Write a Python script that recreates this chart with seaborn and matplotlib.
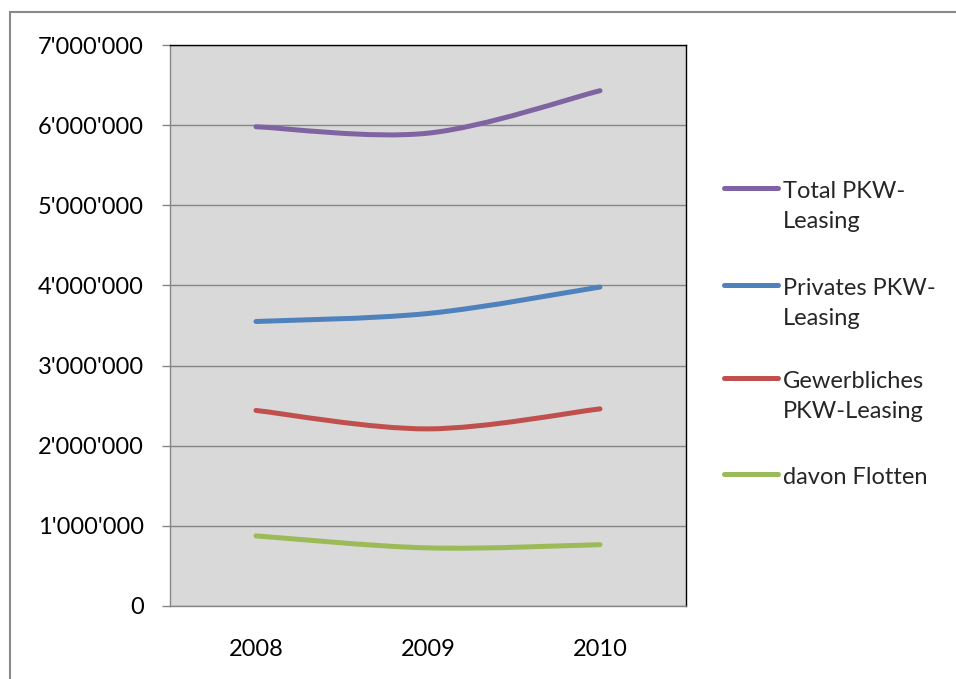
import numpy as np
import matplotlib.pyplot as plt
import seaborn as sns
from matplotlib.path import Path
from matplotlib.patches import PathPatch, Rectangle
from matplotlib.lines import Line2D
from matplotlib.ticker import FuncFormatter

# data
years = ["2008", "2009", "2010"]
total = [5980000, 5900000, 6430000]
privates = [3550000, 3650000, 3980000]
gewerblich = [2440000, 2210000, 2460000]
flotten = [875000, 725000, 765000]

labels = ["Total PKW-\nLeasing", "Privates PKW-\nLeasing", "Gewerbliches\nPKW-Leasing", "davon Flotten"]
colors = ["#8064A2", "#4F81BD", "#C0504D", "#9BBB59"]
series = [total, privates, gewerblich, flotten]

sns.set_theme(style="white")
plt.rcParams['font.family'] = ['Lato', 'DejaVu Sans']

W, H = 956, 679
fig = plt.figure(figsize=(W / 100, H / 100), dpi=100)
ax = fig.add_axes([170 / W, 1 - 606 / H, 516 / W, 561 / H])
ax.set_facecolor("#D9D9D9")


def smooth_path(xs, ys):
    # excel-like smoothed line: cubic bezier segments (catmull-rom tangents)
    pts = np.column_stack([xs, ys]).astype(float)
    n = len(pts)
    verts = [pts[0]]
    codes = [Path.MOVETO]
    for i in range(n - 1):
        p_prev = pts[max(i - 1, 0)]
        p_next = pts[min(i + 2, n - 1)]
        c1 = pts[i] + (pts[i + 1] - p_prev) / 6
        c2 = pts[i + 1] - (p_next - pts[i]) / 6
        verts += [c1, c2, pts[i + 1]]
        codes += [Path.CURVE4] * 3
    return Path(verts, codes)


xpos = np.arange(len(years))
for vals, col in zip(series, colors):
    patch = PathPatch(smooth_path(xpos, vals), fill=False, edgecolor=col,
                      lw=3.6, capstyle="round", joinstyle="round", zorder=3)
    ax.add_patch(patch)

ax.set_xlim(-0.5, 2.5)
ax.set_ylim(0, 7000000)
ax.set_yticks(np.arange(0, 7000001, 1000000))
ax.yaxis.set_major_formatter(FuncFormatter(lambda v, p: f"{int(v):,}".replace(",", "'")))
ax.grid(axis="y", color="#868686", lw=1.0)
ax.set_axisbelow(True)

ax.set_xticks([-0.5, 0.5, 1.5, 2.5])
ax.set_xticklabels([])
ax.set_xticks(xpos, minor=True)
ax.set_xticklabels(years, minor=True)
ax.tick_params(axis="x", which="major", length=7, width=1, color="#868686", direction="out")
ax.tick_params(axis="x", which="minor", length=0, pad=24, labelsize=17, labelcolor="black")
ax.tick_params(axis="y", length=6, width=1, color="#868686", direction="out",
               left=True, pad=13, labelsize=17, labelcolor="black")

for side in ["left", "bottom"]:
    ax.spines[side].set_color("#868686")
    ax.spines[side].set_linewidth(1.0)
for side in ["top", "right"]:
    ax.spines[side].set_color("black")
    ax.spines[side].set_linewidth(1.0)

# legend drawn by hand so the line sits at the first text line
leg_y = [188, 285, 378, 474]
for lab, col, y in zip(labels, colors, leg_y):
    fig.add_artist(Line2D([724 / W, 778 / W], [1 - y / H, 1 - y / H], color=col,
                          lw=3.6, solid_capstyle="round"))
    fig.text(783 / W, 1 - (y - 7) / H, lab, fontsize=17, va="top", ha="left",
             linespacing=1.55)

# chart area border
fig.add_artist(Rectangle((10 / W, -0.1), 1.2, 1 - 12 / H + 0.1, transform=fig.transFigure,
                         fill=False, edgecolor="#898989", lw=1.5))

fig.savefig("out.png", dpi=100)
